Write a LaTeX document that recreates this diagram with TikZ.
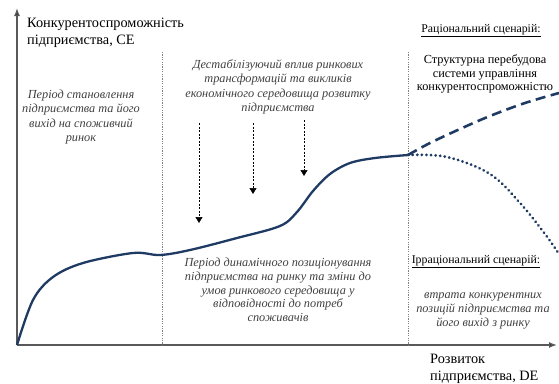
\documentclass[tikz,border=0pt]{standalone}
\usepackage{fontspec}
\setmainfont{Liberation Serif}
\usetikzlibrary{arrows.meta}
\definecolor{navy}{HTML}{1F3A63}
\definecolor{txtgray}{HTML}{404040}
\begin{document}
\begin{tikzpicture}[x=1pt,y=-1pt,
 axis/.style={draw=gray!70!black, line width=1.4pt, -{Latex[length=8pt,width=6pt,fill=black]}},
 sep/.style={draw=gray, dash pattern=on 1.2pt off 1.2pt, line width=0.6pt},
 infl/.style={draw=black, dash pattern=on 2pt off 1.5pt, line width=0.6pt, -{Triangle[length=6pt,width=7pt]}},
 curve/.style={draw=navy, line width=2.3pt},
 ital/.style={font=\fontsize{12.3}{14.2}\selectfont\itshape, text=txtgray, align=center, inner sep=0pt},
 lab/.style={font=\fontsize{14.3}{17}\selectfont, align=left, inner sep=0pt},
 head/.style={align=center, inner sep=0pt},
]
\useasboundingbox (0,0) rectangle (559,383);

% axes
\coordinate (O) at (17,345);
\coordinate (Ytop) at (17,8);
\coordinate (Xend) at (557,345);
\draw[axis] (O) -- (Ytop);
\draw[axis] (O) -- (Xend);

% separators
\coordinate (s1t) at (162,52);
\coordinate (s1b) at (162,345);
\coordinate (s2t) at (408,52);
\coordinate (s2b) at (408,345);
\draw[sep] (s1t) -- (s1b);
\draw[sep] (s2t) -- (s2b);

% influence arrows
\coordinate (a1t) at (199,123);
\coordinate (a1b) at (199,223);
\coordinate (a2t) at (253,123);
\coordinate (a2b) at (253,194);
\coordinate (a3t) at (304,120);
\coordinate (a3b) at (304,176);
\draw[infl] (a1t) -- (a1b);
\draw[infl] (a2t) -- (a2b);
\draw[infl] (a3t) -- (a3b);

% main curve
\coordinate (P) at (408,155);
\draw[curve] plot[smooth, tension=0.55] coordinates {(17,345) (33,300) (53,277) (83,263) (133,253) (160,255) (190,250) (237,238) (280,226) (297,212) (313,191) (330,174) (350,163) (375,158) (408,155)};

% rational scenario (dashed)
\draw[navy, line width=2.6pt, dash pattern=on 10pt off 5.5pt] plot[smooth, tension=0.6] coordinates {(P) (430,143) (460,129) (490,116) (525,103) (559,93)};

% irrational scenario (dotted)
\draw[navy, line width=3pt, line cap=round, dash pattern=on 0.1pt off 4.5pt] plot[smooth, tension=0.6] coordinates {(P) (447,157) (490,174) (520,203) (545,234) (559,254)};

% texts
\node[lab, anchor=west] (ylab) at (27,33) {Конкурентоспроможність\\підприємства, CE};
\node[lab, anchor=west] (xlab) at (430,369) {Розвиток\\підприємства, DE};

\node[ital] (t1) at (81,117) {Період становлення\\підприємства та його\\вихід на споживчий\\ринок};
\node[ital] (t2) at (278,87) {Дестабілізуючий вплив ринкових\\трансформацій та викликів\\економічного середовища розвитку\\підприємства};
\node[ital, font=\fontsize{12.3}{13.7}\selectfont\itshape] (t3) at (278,290) {Період динамічного позиціонування\\підприємства на ринку та зміни до\\умов ринкового середовища у\\відповідності до потреб\\споживачів};

\node[head, font=\fontsize{11.8}{13}\selectfont] (r1) at (481,31) {\underline{Раціональний сценарій:}};
\node[head, font=\fontsize{12.3}{13.5}\selectfont] (r2) at (485,74) {Структурна перебудова\\системи управління\\конкурентоспроможністю};

\node[head, font=\fontsize{11.8}{13}\selectfont] (i1) at (476,262) {\underline{Ірраціональний сценарій:}};
\node[ital] (i2) at (483,311) {втрата конкурентних\\позицій підприємства та\\його вихід з ринку};
\end{tikzpicture}
\end{document}
